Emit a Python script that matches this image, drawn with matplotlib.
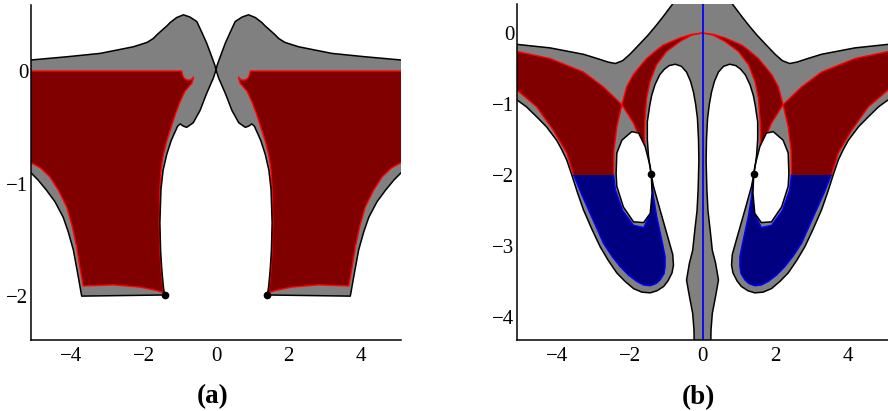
import matplotlib
matplotlib.use("Agg")
import matplotlib.pyplot as plt

plt.rcParams['font.family'] = ['Liberation Serif', 'DejaVu Serif']

GRAY = "#808080"
DARKRED = "#800000"
NAVY = "#000080"

# ----------------------------------
# Panel (a): left half, right half is its mirror image
# ----------------------------------
a_top_x = [-5.3, -5.12, -4.12, -3.2, -2.28, -1.9, -1.73, -1.64, -1.45, -1.36, -1.27, -1.09, -0.9, -0.72, -0.53,
           -0.4, -0.26, -0.12, -0.03, 0.0]
a_top_y = [0.097, 0.098, 0.127, 0.157, 0.216, 0.255, 0.29, 0.32, 0.375, 0.4, 0.43, 0.475, 0.5, 0.48, 0.44,
           0.35, 0.25, 0.13, 0.05, 0.01]
a_low_x = [0.0, -0.07, -0.26, -0.44, -0.63, -0.81, -0.9, -0.99, -1.06, -1.13, -1.24, -1.36, -1.46, -1.52, -1.55,
           -1.53, -1.5, -1.46, -1.42, -3.71, -3.82, -3.94, -4.08, -4.22, -4.45, -4.68, -4.91, -5.14, -5.3]
a_low_y = [0.01, -0.06, -0.2, -0.35, -0.46, -0.5, -0.49, -0.47, -0.49, -0.54, -0.62, -0.74, -0.88, -1.05, -1.35,
           -1.6, -1.75, -1.9, -1.99, -2.0, -1.8, -1.59, -1.43, -1.3, -1.16, -1.06, -0.97, -0.895, -0.87]

a_red_x = [-5.3, -0.95, -0.93, -0.88, -0.8, -0.7, -0.62, -0.67, -0.86, -0.99, -1.13, -1.24, -1.36, -1.46, -1.52,
           -1.55, -1.57, -1.55, -1.52, -1.48, -1.44, -1.64, -2.1, -2.84, -3.67, -3.76, -3.85, -3.97, -4.12,
           -4.35, -4.59, -4.85, -5.14, -5.3]
a_red_y = [0.0, 0.0, -0.03, -0.065, -0.08, -0.08, -0.055, -0.11, -0.18, -0.27, -0.39, -0.5, -0.62, -0.75, -0.88,
           -1.05, -1.35, -1.6, -1.75, -1.9, -1.97, -1.95, -1.92, -1.9, -1.91, -1.74, -1.56, -1.38, -1.21,
           -1.06, -0.94, -0.86, -0.81, -0.78]

a_dot = (-1.42, -1.99)

# ----------------------------------
# Panel (b): left half, right half is its mirror image
# ----------------------------------
b_top_x = [-5.3, -5.12, -4.2, -3.28, -2.9, -2.6, -2.4, -2.2, -2.0, -1.72, -1.5, -1.27, -1.07, -0.85, -0.7]
b_top_y = [-0.16, -0.16, -0.21, -0.3, -0.36, -0.41, -0.43, -0.39, -0.3, -0.15, -0.03, 0.11, 0.24, 0.39, 0.5]

# stem edge (bottom up), over the tall hole, down to the pinch point
b_stem_x = [-0.23, -0.23, -0.235, -0.27, -0.36, -0.44, -0.36, -0.27, -0.21, -0.15, -0.12, -0.1, -0.11, -0.14,
            -0.19, -0.25, -0.33, -0.44, -0.58, -0.75, -0.92, -1.05, -1.18, -1.31, -1.4, -1.45, -1.52, -1.52,
            -1.49, -1.45, -1.41]
b_stem_y = [-4.5, -4.32, -4.18, -3.95, -3.71, -3.48, -3.24, -3.06, -2.77, -2.5, -2.2, -1.8, -1.5, -1.2,
            -1.0, -0.83, -0.68, -0.55, -0.47, -0.44, -0.46, -0.51, -0.59, -0.73, -0.88, -1.01, -1.25, -1.5,
            -1.72, -1.88, -2.0]

# lobe: pinch point, down the inner side, round the tip, up the outer side
b_lobe_x = [-1.41, -1.35, -1.17, -0.93, -0.82, -0.8, -0.84, -0.95, -1.07, -1.25, -1.44, -1.67, -1.9, -2.13,
            -2.36, -2.6, -2.82, -3.05, -3.28, -3.45, -3.6, -3.74, -3.88, -4.02, -4.3, -4.57, -4.85, -5.12, -5.3]
b_lobe_y = [-2.0, -2.16, -2.49, -2.92, -3.12, -3.27, -3.38, -3.49, -3.57, -3.63, -3.66, -3.65, -3.6, -3.5,
            -3.38, -3.2, -3.01, -2.76, -2.49, -2.24, -2.0, -1.79, -1.64, -1.51, -1.32, -1.18, -1.04, -0.94, -0.93]

b_hole_x = [-1.41, -1.39, -1.44, -1.62, -1.9, -2.18, -2.36, -2.38, -2.36, -2.22, -1.95, -1.76, -1.58, -1.44, -1.41]
b_hole_y = [-2.0, -2.26, -2.54, -2.67, -2.66, -2.45, -2.16, -1.98, -1.69, -1.51, -1.39, -1.41, -1.6, -1.88, -2.0]

r1_x = [-5.3, -5.12, -4.2, -3.28, -2.73, -2.22, -1.9, -1.67, -1.49, -1.41]
r1_y = [-0.25, -0.26, -0.36, -0.55, -0.76, -1.01, -1.27, -1.55, -1.84, -2.0]
r2_x = [0.0, -0.3, -0.62, -1.08, -1.26, -1.54, -1.72, -1.91, -2.09, -2.22, -2.36, -2.44, -2.45]
r2_y = [0.0, -0.02, -0.07, -0.17, -0.24, -0.36, -0.47, -0.59, -0.76, -1.01, -1.32, -1.65, -2.0]
r3_x = [-5.3, -5.12, -4.57, -4.11, -3.74, -3.55]
r3_y = [-0.77, -0.8, -1.04, -1.37, -1.69, -2.0]
r4_x = [0.0, -0.3, -0.62, -0.99, -1.27, -1.45, -1.54, -1.59, -1.6, -1.56, -1.49, -1.41]
r4_y = [0.0, -0.03, -0.12, -0.26, -0.45, -0.69, -0.92, -1.25, -1.5, -1.72, -1.88, -2.0]

blue_out_x = [-3.55, -3.35, -3.14, -2.93, -2.73, -2.5, -2.27, -2.04, -1.81, -1.62, -1.44, -1.28, -1.17, -1.06,
              -1.03, -1.03, -1.12, -1.26, -1.35, -1.41]
blue_out_y = [-2.0, -2.25, -2.49, -2.73, -2.96, -3.14, -3.29, -3.41, -3.5, -3.55, -3.56, -3.53, -3.48, -3.39,
              -3.29, -3.15, -2.92, -2.59, -2.31, -2.0]
blue_in_x = [-2.45, -2.4, -2.2, -1.9, -1.62, -1.49, -1.43, -1.41]
blue_in_y = [-2.0, -2.21, -2.5, -2.71, -2.74, -2.6, -2.35, -2.0]

b_dot = (-1.41, -1.98)


def mirror(v):
    return [-t for t in v]


def fill2(ax, xs, ys, **kw):
    ax.fill(xs, ys, lw=0, **kw)
    ax.fill(mirror(xs), ys, lw=0, **kw)


def line2(ax, xs, ys, **kw):
    ax.plot(xs, ys, solid_capstyle="round", solid_joinstyle="round", **kw)
    ax.plot(mirror(xs), ys, solid_capstyle="round", solid_joinstyle="round", **kw)


def style(ax, ylim, yticks):
    ax.set_xlim(-5.11, 5.11)
    ax.set_ylim(*ylim)
    ax.set_xticks([-4, -2, 0, 2, 4])
    ax.set_yticks(yticks)
    for s in ("top", "right"):
        ax.spines[s].set_visible(False)
    for s in ("left", "bottom"):
        ax.spines[s].set_linewidth(1.1)
        ax.spines[s].set_zorder(10)
    ax.tick_params(length=0, labelsize=15)
    ax.tick_params(axis="x", pad=5)
    ax.tick_params(axis="y", pad=2)


fig = plt.figure(figsize=(8.88, 4.11), dpi=100)

# ---------- (a) ----------
ax1 = fig.add_axes([31 / 888, 71 / 411, 370 / 888, 335 / 411])
fill2(ax1, a_top_x + a_low_x, a_top_y + a_low_y, color=GRAY)
fill2(ax1, a_red_x, a_red_y, color=DARKRED)
line2(ax1, a_red_x, a_red_y, color="red", lw=1.0)
line2(ax1, a_top_x + a_low_x, a_top_y + a_low_y, color="black", lw=1.1)
ax1.plot([a_dot[0], -a_dot[0]], [a_dot[1], a_dot[1]], "o", color="black", ms=4.5, zorder=6)
style(ax1, (-2.39, 0.587), [-2, -1, 0])
ax1.text(0.49, -0.17, "(a)", transform=ax1.transAxes, ha="center", va="center",
         fontsize=19.5, fontweight="bold")

# ---------- (b) ----------
ax2 = fig.add_axes([517 / 888, 71 / 411, 371 / 888, 336 / 411])
gray_x = b_top_x + [0.0, 0.0] + b_stem_x + b_lobe_x
gray_y = b_top_y + [0.6, -4.5] + b_stem_y + b_lobe_y
fill2(ax2, gray_x, gray_y, color=GRAY)

# red region below r1, crescent between r2 and r4, blue region below y=-2
reg_x = r1_x[:6] + r2_x[9:] + r3_x[::-1]
reg_y = r1_y[:6] + r2_y[9:] + r3_y[::-1]
fill2(ax2, reg_x, reg_y, color=DARKRED)
cres_x = r2_x[:10] + r1_x[6:] + r4_x[::-1]
cres_y = r2_y[:10] + r1_y[6:] + r4_y[::-1]
fill2(ax2, cres_x, cres_y, color=DARKRED)
fill2(ax2, blue_in_x + blue_out_x[::-1], blue_in_y + blue_out_y[::-1], color=NAVY)

for xs, ys in ((r1_x, r1_y), (r2_x, r2_y), (r3_x, r3_y), (r4_x, r4_y)):
    line2(ax2, xs, ys, color="red", lw=1.0)
line2(ax2, blue_out_x, blue_out_y, color="blue", lw=1.0)
line2(ax2, blue_in_x, blue_in_y, color="blue", lw=1.0)

fill2(ax2, b_hole_x, b_hole_y, color="white", zorder=3)
line2(ax2, b_hole_x, b_hole_y, color="black", lw=1.1, zorder=4)
line2(ax2, b_top_x, b_top_y, color="black", lw=1.1, zorder=4)
line2(ax2, b_stem_x + b_lobe_x, b_stem_y + b_lobe_y, color="black", lw=1.1, zorder=4)
ax2.axvline(0, color="blue", lw=1.3, zorder=5)
ax2.plot([b_dot[0], -b_dot[0]], [b_dot[1], b_dot[1]], "o", color="black", ms=4.5, zorder=6)
style(ax2, (-4.324, 0.408), [-4, -3, -2, -1, 0])
ax2.text(0.49, -0.17, "(b)", transform=ax2.transAxes, ha="center", va="center",
         fontsize=19.5, fontweight="bold")

fig.savefig("out.png", dpi=100)
